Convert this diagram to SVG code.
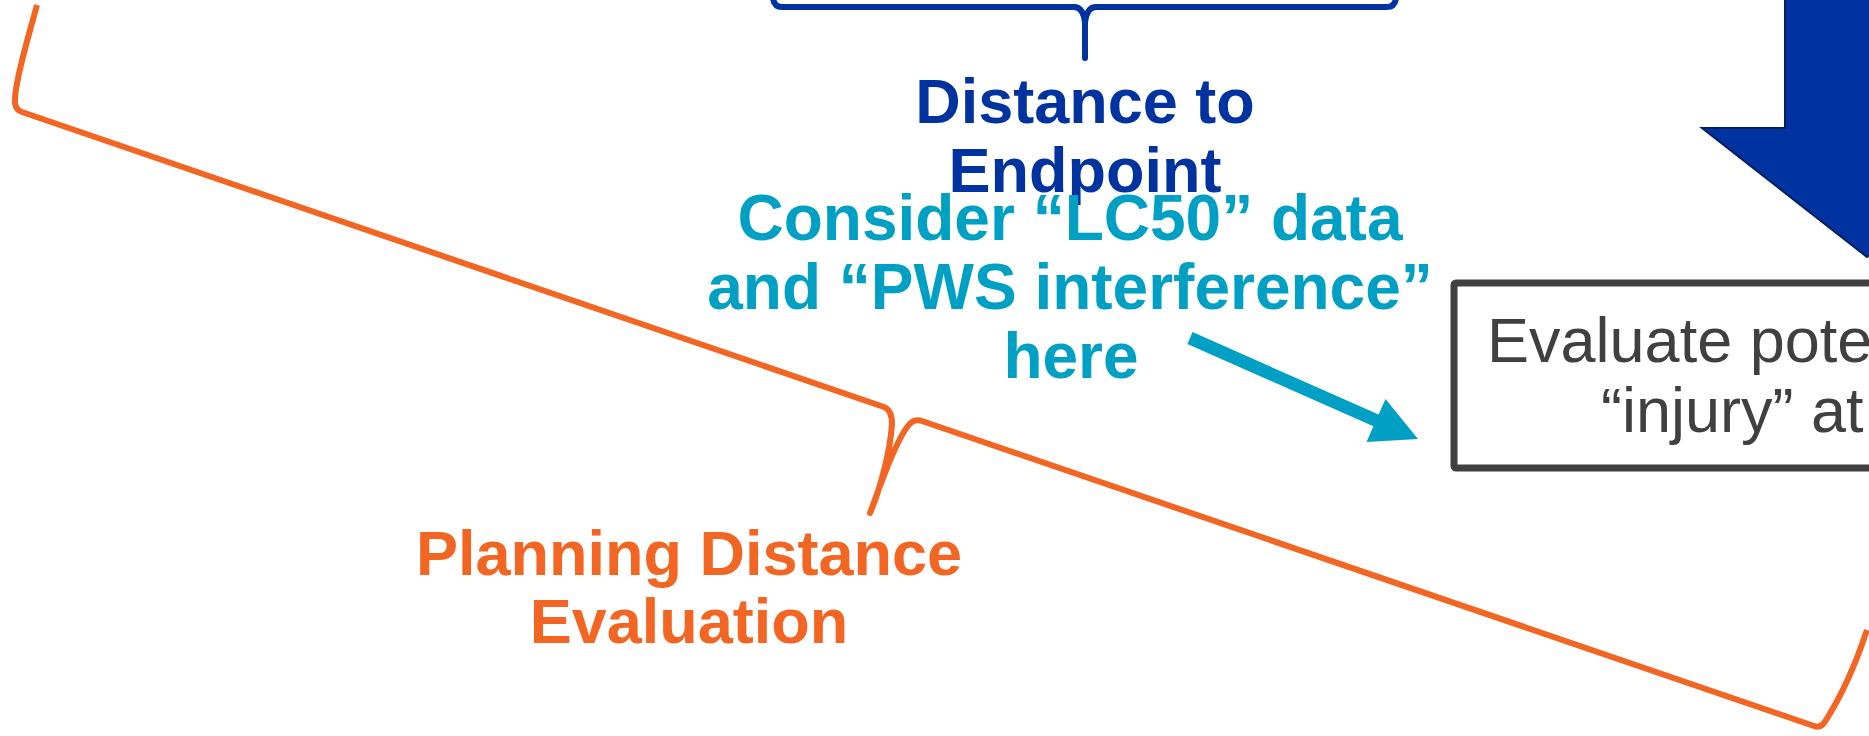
<svg xmlns="http://www.w3.org/2000/svg" width="1869" height="736" viewBox="0 0 1869 736">
<style>
.lbl{font-family:"Liberation Sans",Arial,sans-serif;font-weight:bold;text-anchor:middle}
.orange{fill:#F26522}
.blue{fill:#0033A0}
.teal{fill:#00A0C4}
.brace{fill:none;stroke-width:6;stroke-linejoin:round;stroke-linecap:butt}
.boxtxt{font-family:"Liberation Sans",Arial,sans-serif;font-size:63px;fill:#404040}
</style>
<rect width="1869" height="736" fill="#ffffff"/>
<g id="planning-distance">
<path class="brace" stroke="#F26522" d="M 37,5 C 28,38 14,85 15,103 Q 16,110 22,112 L 884,407 Q 892,410 892,424 C 890,455 878,495 870,513 C 882,480 900,430 912,422 Q 916,419 922,421 L 1814,726 Q 1821,729 1826,720 Q 1849,684 1867,630"/>
<text class="lbl orange" font-size="63" x="689" y="575">Planning Distance</text>
<text class="lbl orange" font-size="63" x="689" y="643">Evaluation</text>
</g>
<g id="distance-to-endpoint">
<path class="brace" stroke="#0033A0" d="M 773,-2 Q 774,7 782,7 L 1074,7 Q 1083,7 1085,22 L 1085,58 L 1085,22 Q 1087,7 1096,7 L 1387,7 Q 1395,7 1396,-2"/>
<text class="lbl blue" font-size="63" x="1085" y="123">Distance to</text>
<text class="lbl blue" font-size="63" x="1085" y="192">Endpoint</text>
</g>
<g id="lc50-note">
<text class="lbl teal" font-size="64" x="1070" y="240">Consider “LC50” data</text>
<text class="lbl teal" font-size="64" x="1070" y="309">and “PWS interference”</text>
<text class="lbl teal" font-size="64" x="1071" y="378">here</text>
</g>
<g id="evaluate-box">
<rect x="1454" y="283" width="500" height="185" rx="2" fill="#ffffff" stroke="#404040" stroke-width="7"/>
<text class="boxtxt" x="1487" y="362">Evaluate pote</text>
<text class="boxtxt" x="1601" y="432">“injury” at</text>
</g>
<g id="connectors">
<polygon points="1187.4,343.9 1192.6,332.1 1378.6,414.5 1385.5,398.9 1418,439 1366.5,441.9 1373.4,426.3" fill="#00A0C4"/>
<polygon points="1785,-5 1785,128 1702,128 1867,257 2032,128 1949,128 1949,-5" fill="#0033A0" stroke="#001F5F" stroke-width="2"/>
</g>
</svg>
